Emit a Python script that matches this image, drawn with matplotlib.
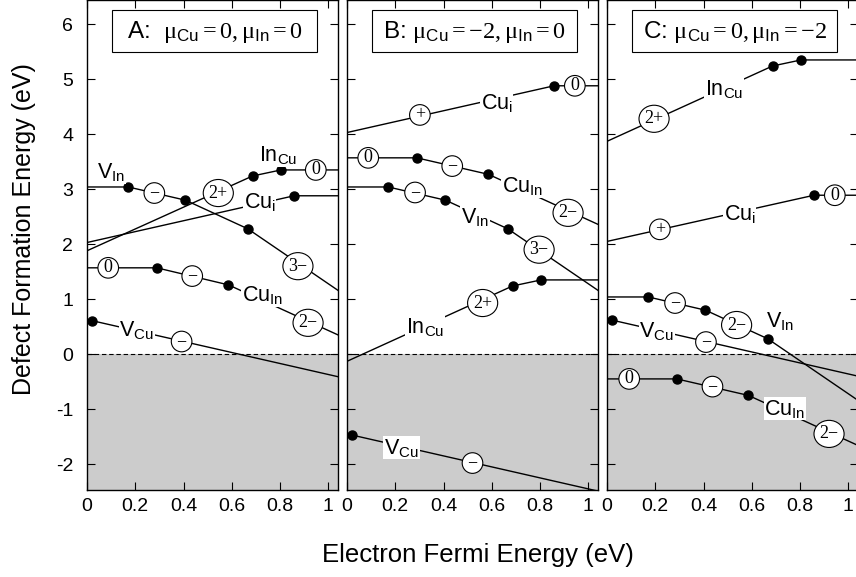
import numpy as np
import matplotlib.pyplot as plt
from matplotlib.patches import Rectangle

plt.rcParams['font.family'] = ['Liberation Sans', 'DejaVu Sans']
plt.rcParams['axes.unicode_minus'] = False
plt.rcParams['mathtext.fontset'] = 'custom'
plt.rcParams['mathtext.rm'] = 'Liberation Serif'
plt.rcParams['mathtext.sf'] = 'Liberation Sans'
plt.rcParams['mathtext.it'] = 'Liberation Serif:italic'
plt.rcParams['mathtext.bf'] = 'Liberation Serif:bold'

# Fermi energies of the line vertices (transition levels), eV
VIn_x = [0, 0.171, 0.408, 0.666, 1.04]
InCu_x = [0, 0.686, 0.804, 1.04]
Cui_x = [0, 0.858, 1.04]
CuIn_x = [0, 0.289, 0.586, 1.04]
VCu_x = [0, 0.02, 1.04]

# formation energies at those vertices, panels A, B, C
VIn_A = [3.04, 3.04, 2.80, 2.28, 1.16]
VIn_B = [3.04, 3.04, 2.80, 2.28, 1.16]
VIn_C = [1.04, 1.04, 0.80, 0.28, -0.84]

InCu_A = [1.88, 3.24, 3.35, 3.35]
InCu_B = [-0.13, 1.24, 1.35, 1.35]
InCu_C = [3.87, 5.24, 5.35, 5.35]

Cui_A = [2.03, 2.88, 2.88]
Cui_B = [4.03, 4.88, 4.88]
Cui_C = [2.05, 2.89, 2.89]

CuIn_A = [1.57, 1.57, 1.26, 0.35]
CuIn_B = [3.57, 3.57, 3.27, 2.36]
CuIn_C = [-0.45, -0.45, -0.75, -1.66]

VCu_A = [0.61, 0.61, -0.41]
VCu_B = [-1.47, -1.47, -2.49]
VCu_C = [0.62, 0.62, -0.40]

titles = [r'A:  $\mathrm{\mu}_{\mathsf{Cu}}=0, \mathrm{\mu}_{\mathsf{In}}=0$',
          r'B: $\mathrm{\mu}_{\mathsf{Cu}}=-2, \mathrm{\mu}_{\mathsf{In}}=0$',
          r'C: $\mathrm{\mu}_{\mathsf{Cu}}=0, \mathrm{\mu}_{\mathsf{In}}=-2$']

# charge state labels (text, x, y)
charges_A = [('−', 0.279, 2.93), ('2+', 0.544, 2.93), ('0', 0.948, 3.35),
             ('3−', 0.874, 1.60), ('0', 0.088, 1.57), ('−', 0.436, 1.42),
             ('2−', 0.916, 0.57), ('−', 0.392, 0.23)]
charges_B = [('+', 0.302, 4.35), ('0', 0.944, 4.88), ('0', 0.088, 3.57),
             ('−', 0.436, 3.42), ('2−', 0.916, 2.57), ('−', 0.282, 2.94),
             ('3−', 0.796, 1.90), ('2+', 0.562, 0.93), ('−', 0.52, -1.98)]
charges_C = [('2+', 0.195, 4.28), ('+', 0.219, 2.27), ('0', 0.944, 2.89),
             ('−', 0.282, 0.93), ('2−', 0.537, 0.53), ('−', 0.41, 0.22),
             ('0', 0.092, -0.45), ('−', 0.437, -0.59), ('2−', 0.92, -1.45)]

# defect names (text, x, y)
names_A = [(r'$\mathsf{V}_{\mathsf{In}}$', 0.099, 3.31),
           (r'$\mathsf{In}_{\mathsf{Cu}}$', 0.792, 3.62),
           (r'$\mathsf{Cu}_{\mathsf{i}}$', 0.716, 2.77),
           (r'$\mathsf{Cu}_{\mathsf{In}}$', 0.727, 1.07),
           (r'$\mathsf{V}_{\mathsf{Cu}}$', 0.206, 0.44)]
names_B = [(r'$\mathsf{Cu}_{\mathsf{i}}$', 0.62, 4.56),
           (r'$\mathsf{Cu}_{\mathsf{In}}$', 0.727, 3.06),
           (r'$\mathsf{V}_{\mathsf{In}}$', 0.53, 2.50),
           (r'$\mathsf{In}_{\mathsf{Cu}}$', 0.323, 0.50),
           (r'$\mathsf{V}_{\mathsf{Cu}}$', 0.226, -1.70)]
names_C = [(r'$\mathsf{In}_{\mathsf{Cu}}$', 0.484, 4.83),
           (r'$\mathsf{Cu}_{\mathsf{i}}$', 0.55, 2.55),
           (r'$\mathsf{V}_{\mathsf{In}}$', 0.716, 0.60),
           (r'$\mathsf{V}_{\mathsf{Cu}}$', 0.206, 0.42),
           (r'$\mathsf{Cu}_{\mathsf{In}}$', 0.737, -0.99)]

xticks = [0, 0.2, 0.4, 0.6, 0.8, 1.0]
xticklabels = ['0', '0.2', '0.4', '0.6', '0.8', '1']
yticks = [-2, -1, 0, 1, 2, 3, 4, 5, 6]

panels = [
    ([(VIn_x, VIn_A), (InCu_x, InCu_A), (Cui_x, Cui_A), (CuIn_x, CuIn_A), (VCu_x, VCu_A)], charges_A, names_A),
    ([(VIn_x, VIn_B), (InCu_x, InCu_B), (Cui_x, Cui_B), (CuIn_x, CuIn_B), (VCu_x, VCu_B)], charges_B, names_B),
    ([(VIn_x, VIn_C), (InCu_x, InCu_C), (Cui_x, Cui_C), (CuIn_x, CuIn_C), (VCu_x, VCu_C)], charges_C, names_C),
]

fig = plt.figure(figsize=(8.56, 5.77), dpi=100)
lefts = [87 / 856, 347 / 856, 607 / 856]

for k, (lines, charges, names) in enumerate(panels):
    ax = fig.add_axes([lefts[k], 87 / 577, 251 / 856, 490 / 577])
    ax.axhspan(-5, 0, color='#cccccc', lw=0, zorder=0)
    ax.axhline(0, color='k', lw=0.8, ls=(0, (4, 2.5)), zorder=1)

    for x, y in lines:
        ax.plot(x, y, color='k', lw=1.0, zorder=2)
        ax.plot(x[1:-1], y[1:-1], 'o', color='k', ms=6.5, zorder=3)

    for s, x, y in charges:
        style = 'circle,pad=0.1' if len(s) == 1 else 'ellipse,pad=0.06'
        ax.text(x, y, s, ha='center', va='center', fontsize=13,
                family='Liberation Serif', zorder=5,
                bbox=dict(boxstyle=style, fc='white', ec='k', lw=0.8))

    for s, x, y in names:
        ax.text(x, y, s, ha='center', va='center', fontsize=15.5, zorder=4,
                bbox=dict(boxstyle='square,pad=0.03', fc='white', ec='none'))

    ax.add_patch(Rectangle((0.098, 0.893), 0.819, 0.087, transform=ax.transAxes,
                           fc='white', ec='k', lw=0.8, zorder=6))
    ax.text(0.508, 0.934, titles[k], transform=ax.transAxes, ha='center',
            va='center', fontsize=17.5, zorder=7)

    ax.set_xlim(0, 1.04)
    ax.set_ylim(-2.47, 6.44)
    ax.set_xticks(xticks)
    ax.set_xticklabels(xticklabels)
    ax.set_yticks(yticks)
    ax.tick_params(direction='in', top=True, right=True, length=6, width=0.8,
                   labelsize=14)
    ax.tick_params(axis='x', pad=6)
    ax.tick_params(axis='y', pad=10)
    if k > 0:
        ax.tick_params(labelleft=False)
    for sp in ax.spines.values():
        sp.set_linewidth(1.0)

fig.text(24 / 856, 1 - 229 / 577, 'Defect Formation Energy (eV)', rotation=90,
         ha='center', va='center', fontsize=18)
fig.text(478 / 856, 1 - 555 / 577, 'Electron Fermi Energy (eV)',
         ha='center', va='center', fontsize=18.5)

fig.savefig('out.png', dpi=100)
